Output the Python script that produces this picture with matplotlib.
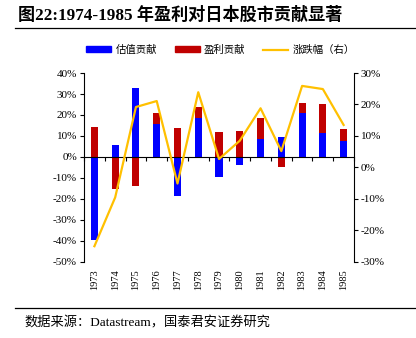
import numpy as np
import matplotlib.pyplot as plt
from matplotlib.lines import Line2D
from matplotlib.patches import Patch
from matplotlib.transforms import blended_transform_factory

plt.rcParams['font.family'] = ['Liberation Serif', 'Noto Sans CJK SC']
CJK = ['Noto Sans CJK SC', 'DejaVu Sans']
MIXED = ['Liberation Serif', 'Noto Sans CJK SC']

years = ['1973', '1974', '1975', '1976', '1977', '1978', '1979',
         '1980', '1981', '1982', '1983', '1984', '1985']
# valuation / earnings contribution (%), left axis
valuation = [-39.5, 5.6, 32.7, 15.6, -18.8, 18.8, -9.6, -4.0, 8.8, 9.6, 20.9, 11.5, 7.5]
earnings = [14.3, -15.1, -13.7, 5.4, 13.7, 4.9, 12.1, 12.4, 10.0, -4.6, 4.9, 13.5, 5.9]
# index change (%), right axis
change = [-25.0, -9.5, 19.2, 21.1, -5.1, 23.9, 2.7, 8.5, 18.8, 5.2, 25.9, 24.9, 13.5]

BLUE = '#0000FF'
RED = '#C00000'
GOLD = '#FFC000'

fig = plt.figure(figsize=(4.16, 3.38), dpi=100)
ax = fig.add_axes([0.202, 0.225, 0.649, 0.559])
ax2 = ax.twinx()

x = np.arange(len(years))
val = np.array(valuation)
earn = np.array(earnings)
# positive and negative parts stack separately
earn_bottom = np.where(np.sign(earn) == np.sign(val), val, 0)

w = 0.34
ax.bar(x, val, width=w, color=BLUE, zorder=2)
ax.bar(x, earn, width=w, bottom=earn_bottom, color=RED, zorder=2)

ax.set_xlim(-0.5, len(years) - 0.5)
ax.set_ylim(-50, 40)
ax.set_yticks(np.arange(-50, 41, 10))
ax.set_yticklabels([f'{v}%' for v in range(-50, 41, 10)], fontsize=8)

ax.spines['top'].set_visible(False)
ax.spines['right'].set_visible(False)
ax.spines['bottom'].set_position(('data', 0))
ax.spines['left'].set_linewidth(0.8)
ax.spines['bottom'].set_linewidth(0.8)
ax.tick_params(axis='y', direction='out', length=3, width=0.8, pad=2)

# category boundary ticks on the zero line, labels at the bottom
ax.set_xticks(np.arange(len(years) + 1) - 0.5)
ax.tick_params(axis='x', direction='out', length=3, width=0.8, labelbottom=False)
tr = blended_transform_factory(ax.transData, ax.transAxes)
for xi, yr in zip(x, years):
    ax.text(xi, -0.04, yr, transform=tr, rotation=90, ha='center', va='top', fontsize=7.5)

ax2.plot(x, change, color=GOLD, lw=1.6, zorder=3)
ax2.set_ylim(-30, 30)
ax2.set_yticks(np.arange(-30, 31, 10))
ax2.set_yticklabels([f'{v}%' for v in range(-30, 31, 10)], fontsize=8)
for s in ['top', 'left', 'bottom']:
    ax2.spines[s].set_visible(False)
ax2.spines['right'].set_linewidth(0.8)
ax2.tick_params(axis='y', direction='out', length=3, width=0.8, pad=2)

handles = [Patch(color=BLUE), Patch(color=RED), Line2D([], [], color=GOLD, lw=1.6)]
labels = ['估值贡献', '盈利贡献', '涨跌幅（右）']
fig.legend(handles, labels, loc='center', bbox_to_anchor=(0.53, 0.852), ncol=3,
           frameon=False, prop={'family': CJK, 'size': 7.5}, handlelength=2.4,
           handleheight=0.5, handletextpad=0.4, columnspacing=1.7)

fig.text(0.043, 0.955, '图22:1974-1985 年盈利对日本股市贡献显著', fontsize=12.3,
         fontweight='bold', family=MIXED, va='center')
fig.add_artist(Line2D([0.036, 1.0], [0.918, 0.918], color='black', lw=0.9))
fig.add_artist(Line2D([0.036, 1.0], [0.088, 0.088], color='black', lw=0.9))
fig.text(0.06, 0.045, '数据来源：Datastream，国泰君安证券研究', fontsize=9.5,
         family=MIXED, va='center')

fig.savefig('out.png', dpi=100)
